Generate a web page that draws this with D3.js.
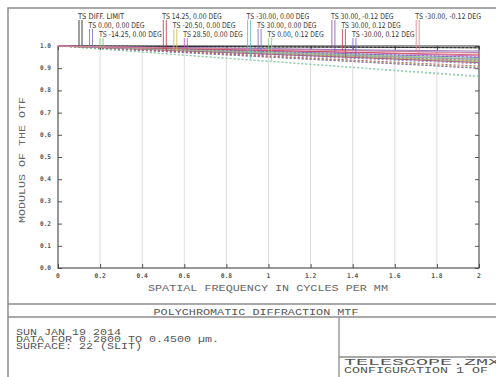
<!DOCTYPE html>
<html>
<head>
<meta charset="utf-8">
<script src="https://cdn.jsdelivr.net/npm/d3@7"></script>
<style>
  html, body { margin: 0; background: #fff; overflow: hidden; }
  svg { display: block; }
</style>
</head>
<body>
<div id="chart"></div>
<script>
// spatial frequency samples (cycles per mm)
const freqs = [0, 0.5, 1.0, 1.5, 2.0];

const fieldNames = [
  "DIFF. LIMIT", "0.00, 0.00 DEG", "-14.25, 0.00 DEG", "14.25, 0.00 DEG",
  "-20.50, 0.00 DEG", "28.50, 0.00 DEG", "-30.00, 0.00 DEG", "30.00, 0.00 DEG",
  "0.00, 0.12 DEG", "30.00, -0.12 DEG", "30.00, 0.12 DEG", "-30.00, 0.12 DEG",
  "-30.00, -0.12 DEG"
];

// tangential MTF per field
const tangential = [
  [1, 0.998, 0.996, 0.994, 0.992],
  [1, 0.985, 0.970, 0.955, 0.940],
  [1, 0.983, 0.965, 0.948, 0.930],
  [1, 0.982, 0.963, 0.945, 0.925],
  [1, 0.984, 0.967, 0.950, 0.933],
  [1, 0.990, 0.980, 0.968, 0.955],
  [1, 0.985, 0.970, 0.955, 0.940],
  [1, 0.988, 0.976, 0.962, 0.948],
  [1, 0.986, 0.972, 0.958, 0.943],
  [1, 0.994, 0.988, 0.982, 0.977],
  [1, 0.990, 0.980, 0.970, 0.960],
  [1, 0.993, 0.986, 0.978, 0.970],
  [1, 0.992, 0.985, 0.977, 0.968]
];

// sagittal MTF per field
const sagittal = [
  [1, 0.998, 0.996, 0.994, 0.992],
  [1, 0.980, 0.960, 0.940, 0.920],
  [1, 0.977, 0.953, 0.930, 0.905],
  [1, 0.975, 0.950, 0.925, 0.900],
  [1, 0.976, 0.952, 0.927, 0.902],
  [1, 0.984, 0.967, 0.951, 0.935],
  [1, 0.966, 0.932, 0.898, 0.865],
  [1, 0.975, 0.950, 0.925, 0.900],
  [1, 0.965, 0.930, 0.895, 0.860],
  [1, 0.988, 0.975, 0.962, 0.950],
  [1, 0.978, 0.955, 0.932, 0.910],
  [1, 0.982, 0.963, 0.945, 0.926],
  [1, 0.985, 0.970, 0.955, 0.940]
];

const xTicks = [0, 0.2, 0.4, 0.6, 0.8, 1.0, 1.2, 1.4, 1.6, 1.8, 2.0];
const yTicks = [0, 0.1, 0.2, 0.3, 0.4, 0.5, 0.6, 0.7, 0.8, 0.9, 1.0];

const infoLines = ["SUN JAN 19 2014", "DATA FOR 0.2800 TO 0.4500 \u00b5m.", "SURFACE: 22 (SLIT)"];
const fileLines = ["TELESCOPE.ZMX", "CONFIGURATION 1 OF 1"];

const colors = ["#222", "#7b76c8", "#6cc46c", "#c0404a", "#c8bf55", "#b558c0",
  "#5cc0c8", "#7c70c8", "#8fd08f", "#8a5aa8", "#d0404e", "#7f68d0", "#e08a8a"];

const W = 496, H = 377;
const plot = { left: 58, right: 479, top: 46, bottom: 268 };

const svg = d3.select("#chart").append("svg").attr("width", W).attr("height", H);

const x = d3.scaleLinear().domain([0, 2]).range([plot.left, plot.right]);
const y = d3.scaleLinear().domain([0, 1]).range([plot.bottom, plot.top]);

// helper to squeeze text into a given width
function txt(g, str, px, py, size, width, opts = {}) {
  const t = g.append("text")
    .attr("x", px).attr("y", py)
    .attr("font-family", opts.family || "Liberation Mono, DejaVu Sans Mono, monospace")
    .attr("font-size", size)
    .attr("fill", opts.fill || "#555")
    .attr("text-anchor", opts.anchor || "start")
    .text(str);
  if (width) t.attr("textLength", width).attr("lengthAdjust", "spacingAndGlyphs");
  if (opts.weight) t.attr("font-weight", opts.weight);
  return t;
}

// outer frame and separators
svg.append("rect").attr("x", 8).attr("y", 8).attr("width", 500).attr("height", 380)
  .attr("fill", "none").attr("stroke", "#8c8c8c").attr("stroke-width", 1.5);
svg.append("line").attr("x1", 8).attr("x2", W).attr("y1", 304).attr("y2", 304).attr("stroke", "#8c8c8c").attr("stroke-width", 1.3);
svg.append("line").attr("x1", 8).attr("x2", W).attr("y1", 317).attr("y2", 317).attr("stroke", "#8c8c8c").attr("stroke-width", 1.3);
svg.append("line").attr("x1", 339).attr("x2", 339).attr("y1", 317).attr("y2", H).attr("stroke", "#8c8c8c").attr("stroke-width", 1.3);
svg.append("line").attr("x1", 339).attr("x2", W).attr("y1", 357).attr("y2", 357).attr("stroke", "#8c8c8c").attr("stroke-width", 1.3);

// vertical grid
svg.append("g").selectAll("line")
  .data(xTicks.slice(1, -1))
  .join("line")
  .attr("x1", d => x(d)).attr("x2", d => x(d))
  .attr("y1", plot.top).attr("y2", plot.bottom)
  .attr("stroke", "#dcdcdc").attr("stroke-width", 1);

// axes with inward ticks
const axisStyle = g => {
  g.select(".domain").remove();
  g.selectAll(".tick line").attr("stroke", "#555");
  g.selectAll(".tick text").remove();
};
svg.append("g").attr("transform", `translate(${plot.left},0)`)
  .call(d3.axisLeft(y).tickValues(yTicks).tickSize(-4)).call(axisStyle);
svg.append("g").attr("transform", `translate(${plot.right},0)`)
  .call(d3.axisRight(y).tickValues(yTicks).tickSize(-4)).call(axisStyle);
svg.append("g").attr("transform", `translate(0,${plot.bottom})`)
  .call(d3.axisBottom(x).tickValues(xTicks).tickSize(-4)).call(axisStyle);
svg.append("g").attr("transform", `translate(0,${plot.top})`)
  .call(d3.axisTop(x).tickValues(xTicks).tickSize(-4)).call(axisStyle);

// tick labels
const tl = svg.append("g");
yTicks.forEach(v => {
  txt(tl, d3.format(".1f")(v), 51, y(v) + 2, 6.5, 11, { anchor: "end", weight: "bold", fill: "#555", family: "DejaVu Sans Mono, monospace" });
});
xTicks.forEach(v => {
  const s = d3.format("~g")(v);
  txt(tl, s, x(v), 278, 6.5, s.length * 3.8, { anchor: "middle", weight: "bold", fill: "#555", family: "DejaVu Sans Mono, monospace" });
});

// plot frame
svg.append("rect").attr("x", plot.left).attr("y", plot.top)
  .attr("width", plot.right - plot.left).attr("height", plot.bottom - plot.top)
  .attr("fill", "none").attr("stroke", "#444").attr("stroke-width", 1.1);

// curves
const line = d3.line().x(d => x(d[0])).y(d => y(d[1]));
const curves = svg.append("g");
fieldNames.forEach((name, i) => {
  curves.append("path")
    .datum(freqs.map((f, k) => [f, sagittal[i][k]]))
    .attr("d", line).attr("fill", "none")
    .attr("stroke", colors[i]).attr("stroke-width", 1)
    .attr("stroke-dasharray", "2,2").attr("opacity", 0.85);
  curves.append("path")
    .datum(freqs.map((f, k) => [f, tangential[i][k]]))
    .attr("d", line).attr("fill", "none")
    .attr("stroke", colors[i]).attr("stroke-width", 1).attr("opacity", 0.85);
});

// field labels with leader lines
const valueAt = (arr, f) => d3.scaleLinear().domain(freqs).range(arr)(f);
const labels = svg.append("g");
const rowBase = [19, 28, 37];
fieldNames.forEach((name, i) => {
  const row = i % 3, col = Math.floor(i / 3);
  const lx = 78 + col * 84.3 + row * 10.5;
  const str = "TS " + name;
  txt(labels, str, lx, rowBase[row], 7.8, str.length * 3.3, { family: "DejaVu Sans, sans-serif", fill: "#333" });
  [[1, tangential[i]], [4, sagittal[i]]].forEach(([dx, arr]) => {
    const px = lx + dx;
    labels.append("line")
      .attr("x1", px).attr("x2", px)
      .attr("y1", rowBase[row] + 1)
      .attr("y2", y(valueAt(arr, x.invert(px))) - 1)
      .attr("stroke", colors[i]).attr("stroke-width", 1).attr("opacity", 0.85);
  });
});

// axis titles
txt(svg, "SPATIAL FREQUENCY IN CYCLES PER MM", 268, 291, 9.5, 240, { anchor: "middle", fill: "#666" });
txt(svg.append("g").attr("transform", "translate(25,160) rotate(-90)"),
  "MODULUS OF THE OTF", 0, 0, 9.5, 126, { anchor: "middle", fill: "#666" });

// footer
txt(svg, "POLYCHROMATIC DIFFRACTION MTF", 256, 315, 9.5, 205, { anchor: "middle", fill: "#555" });
infoLines.forEach((s, i) => {
  txt(svg, s, 16, 334.5 + i * 7.3, 8.3, s.length * 7, { fill: "#555" });
});
txt(svg, fileLines[0], 344, 364.5, 8.8, fileLines[0].length * 12, { fill: "#555" });
txt(svg, fileLines[1], 344, 372.5, 8.3, fileLines[1].length * 8, { fill: "#555" });
</script>
</body>
</html>
